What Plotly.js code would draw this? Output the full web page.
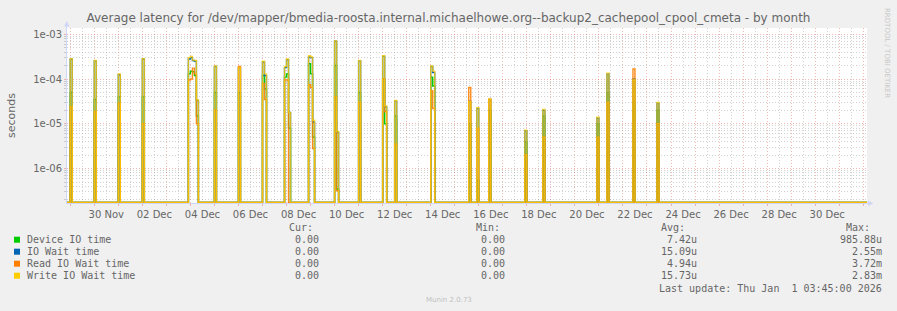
<!DOCTYPE html>
<html>
<head>
<meta charset="utf-8">
<script src="https://cdn.plot.ly/plotly-3.0.1.min.js"></script>
<style>
html,body{margin:0;padding:0;background:#f0f0f0;}
#chart{width:897px;height:311px;}
</style>
</head>
<body>
<div id="chart"></div>
<script>
// ---------------- DATA ----------------
const chartTitle = 'Average latency for /dev/mapper/bmedia-roosta.internal.michaelhowe.org--backup2_cachepool_cpool_cmeta - by month';
const yAxisTitle = 'seconds';
const seriesNames = ['Device IO time', 'IO Wait time', 'Read IO Wait time', 'Write IO Wait time'];

const rangeStart = '2025-11-28 20:45';
const rangeEnd = '2026-01-01 03:45';

// 2-hour sample start times where values are non-zero (all other samples are 0)
const binTimes = [
  '2025-11-29 00:00',
  '2025-11-30 00:00',
  '2025-12-01 00:00',
  '2025-12-02 00:00',
  '2025-12-03 22:00', '2025-12-04 00:00', '2025-12-04 02:00', '2025-12-04 04:00', '2025-12-04 06:00',
  '2025-12-05 00:00',
  '2025-12-06 00:00',
  '2025-12-07 00:00', '2025-12-07 02:00',
  '2025-12-07 22:00', '2025-12-08 00:00', '2025-12-08 02:00',
  '2025-12-08 22:00', '2025-12-09 00:00', '2025-12-09 02:00',
  '2025-12-10 00:00', '2025-12-10 02:00',
  '2025-12-11 00:00',
  '2025-12-12 00:00', '2025-12-12 02:00',
  '2025-12-12 12:00',
  '2025-12-14 00:00', '2025-12-14 02:00',
  '2025-12-15 14:00',
  '2025-12-15 22:00',
  '2025-12-16 10:00',
  '2025-12-17 22:00',
  '2025-12-18 16:00',
  '2025-12-20 22:00',
  '2025-12-21 08:00',
  '2025-12-22 10:00',
  '2025-12-23 10:00'
];

const deviceIO = [
  5e-5, 3.5e-5, 4e-5, 4e-5,
  1.3e-4, 1.5e-4, 1.45e-4, 1.2e-4, 1.5e-5,
  5e-5, 5e-5,
  1.2e-4, 6e-5,
  1.1e-4, 1.3e-4, 8e-6,
  2.2e-4, 1.3e-4, 5e-6,
  2e-4, 3.5e-7,
  5e-5,
  1e-4, 1e-5,
  1.5e-5,
  1.1e-4, 7e-5,
  1e-5, 5.5e-7, 2e-5, 4e-6, 1.5e-5, 1e-5, 5e-5, 3e-5, 2e-5
];
const ioWait = [
  2.8e-4, 2.55e-4, 1.25e-4, 2.8e-4,
  2.8e-4, 3.0e-4, 2.6e-4, 2.5e-4, 3.3e-5,
  1.9e-4, 1.8e-4,
  2.4e-4, 1.2e-4,
  1.8e-4, 2.7e-4, 1.8e-5,
  3.1e-4, 3.0e-4, 1.1e-5,
  7.0e-4, 6.5e-6,
  2.55e-4,
  3.2e-4, 2.4e-5,
  3.2e-5,
  1.9e-4, 1.4e-4,
  3.2e-5, 2.2e-5, 3.5e-5, 7e-6, 2e-5, 1.35e-5, 1.3e-4, 1e-4, 2.9e-5
];
const readWait = [
  2.4e-5, 1.85e-5, 2.9e-5, 1e-5,
  9.5e-5, 1.0e-4, 1.75e-4, 1.3e-4, 1.0e-5,
  2e-5, 1.9e-4,
  8e-5, 3.5e-5,
  9.5e-5, 9.5e-5, 0,
  7.5e-5, 6.5e-5, 2.8e-6,
  4e-5, 3.2e-7,
  3e-5,
  1e-4, 1.85e-5,
  3.5e-6,
  5.5e-5, 2.2e-5,
  6.5e-5, 8e-6, 3.5e-5, 2e-6, 5e-6, 5e-6, 3e-5, 1.67e-4, 1e-5
];
const writeWait = [
  2.85e-4, 2.6e-4, 1.3e-4, 2.85e-4,
  3.0e-4, 3.2e-4, 2.65e-4, 2.6e-4, 3.4e-5,
  1.95e-4, 1.8e-4,
  2.5e-4, 1.3e-4,
  1.9e-4, 2.8e-4, 1.8e-5,
  3.3e-4, 3.1e-4, 1.2e-5,
  7.1e-4, 6.7e-6,
  2.6e-4,
  3.3e-4, 2.5e-5,
  3.3e-5,
  1.95e-4, 1.5e-4,
  3.1e-5, 2.3e-5, 3.6e-5, 7.2e-6, 2.1e-5, 1.4e-5, 1.35e-4, 9.5e-5, 3e-5
];

const xTickDates = ['2025-11-30 12:00','2025-12-02 12:00','2025-12-04 12:00','2025-12-06 12:00','2025-12-08 12:00',
  '2025-12-10 12:00','2025-12-12 12:00','2025-12-14 12:00','2025-12-16 12:00','2025-12-18 12:00','2025-12-20 12:00',
  '2025-12-22 12:00','2025-12-24 12:00','2025-12-26 12:00','2025-12-28 12:00','2025-12-30 12:00'];
const xTickLabels = ['30 Nov','02 Dec','04 Dec','06 Dec','08 Dec','10 Dec','12 Dec','14 Dec','16 Dec','18 Dec',
  '20 Dec','22 Dec','24 Dec','26 Dec','28 Dec','30 Dec'];
const yTickValues = [1e-6, 1e-5, 1e-4, 1e-3];
const yTickLabels = ['1e-06', '1e-05', '1e-04', '1e-03'];

const statHeaders = ['Cur:', 'Min:', 'Avg:', 'Max:'];
const curVals = ['0.00', '0.00', '0.00', '0.00'];
const minVals = ['0.00', '0.00', '0.00', '0.00'];
const avgVals = ['7.42u', '15.09u', '4.94u', '15.73u'];
const maxVals = ['985.88u', '2.55m', '3.72m', '2.83m'];
const lastUpdate = 'Last update: Thu Jan\u00a0\u00a01 03:45:00 2026';
const footer = 'Munin 2.0.73';
const sideText = 'RRDTOOL / TOBI OETIKER';

// ---------------- STYLE ----------------
const seriesColors = ['#00CC00', '#0066B3', '#FF8000', '#FFCC00'];
const seriesOpacity = [1, 1, 0.9, 0.82];
const FONT = '#666666';
const AXIS = '#CFD6F8';
const W = 897, H = 311;
const PL = 67, PR = 867, PT = 28, PB = 203;
const LOG_MIN = -6.77, LOG_MAX = -2.86;
const FLOOR = Math.pow(10, LOG_MIN + 0.012);
const MGRID = 'rgba(222,79,79,0.4)';
const GRID = 'rgba(143,143,143,0.4)';
const DASH = '1px,2px';

function toMs(s) { return Date.parse(s.replace(' ', 'T') + ':00Z'); }
const STEP = 2 * 3600 * 1000;

function buildSeries(vals) {
  const xs = [toMs(rangeStart)], ys = [FLOOR];
  for (let i = 0; i < binTimes.length; i++) {
    const t = toMs(binTimes[i]);
    xs.push(t); ys.push(vals[i] > 0 ? vals[i] : FLOOR);
    const next = i + 1 < binTimes.length ? toMs(binTimes[i + 1]) : null;
    if (next !== t + STEP) { xs.push(t + STEP); ys.push(FLOOR); }
  }
  xs.push(toMs(rangeEnd)); ys.push(FLOOR);
  return { xs, ys };
}

const allSeries = [deviceIO, ioWait, readWait, writeWait];
const traces = allSeries.map((vals, i) => {
  const s = buildSeries(vals);
  return {
    x: s.xs, y: s.ys, type: 'scatter', mode: 'lines', opacity: seriesOpacity[i],
    line: { color: seriesColors[i], width: 1.4, shape: 'hv' },
    name: seriesNames[i], hoverinfo: 'skip', showlegend: false
  };
});
traces.push({
  x: [toMs(rangeStart)], y: [FLOOR], xaxis: 'x2', type: 'scatter', mode: 'markers',
  marker: { opacity: 0 }, hoverinfo: 'skip', showlegend: false
});

const minorY = [];
for (let d = -7; d <= -3; d++) for (let k = 2; k <= 9; k++) minorY.push(k * Math.pow(10, d));

function px(x) { return (x - PL) / (PR - PL); }
function py(y) { return (PB - y) / (PB - PT); }

const annotations = [];
function ann(text, x, y, xanchor, font, extra) {
  annotations.push(Object.assign({
    xref: 'paper', yref: 'paper', x: px(x), y: py(y), text: text, showarrow: false,
    xanchor: xanchor, yanchor: 'middle', font: font, borderpad: 0
  }, extra || {}));
}
const mono = { family: 'DejaVu Sans Mono', size: 10, color: FONT };

ann(yAxisTitle, 11, 115, 'center', { family: 'DejaVu Sans', size: 11, color: FONT }, { textangle: -90 });
ann(sideText, 887, 53, 'center', { family: 'DejaVu Sans', size: 7, color: '#c8c8c8' }, { textangle: 90 });

const rowY = [239.7, 251.7, 263.7, 275.7];
const headerY = 227.5;
const colRightHeader = [314, 500.5, 686, 871];
const colRightVals = [320, 506, 698, 883];
statHeaders.forEach((h, i) => ann(h, colRightHeader[i], headerY, 'right', mono));
const shapes = [];
seriesNames.forEach((n, r) => {
  ann(n, 26, rowY[r], 'left', mono);
  ann(curVals[r], colRightVals[0], rowY[r], 'right', mono);
  ann(minVals[r], colRightVals[1], rowY[r], 'right', mono);
  ann(avgVals[r], colRightVals[2], rowY[r], 'right', mono);
  ann(maxVals[r], colRightVals[3], rowY[r], 'right', mono);
  shapes.push({
    type: 'rect', xref: 'paper', yref: 'paper',
    x0: px(14), x1: px(20), y0: py(rowY[r] + 3), y1: py(rowY[r] - 3),
    fillcolor: seriesColors[r], line: { width: 0 }
  });
});
ann(lastUpdate, 883, 288.3, 'right', mono);
ann(footer, 448.5, 300, 'center', { family: 'DejaVu Sans', size: 7, color: '#c0c0c0' });

// axis arrows
function pathPts(pts) {
  return 'M ' + pts.map(p => px(p[0]) + ',' + py(p[1])).join(' L ') + ' Z';
}
shapes.push({ type: 'path', xref: 'paper', yref: 'paper', path: pathPts([[868, 200.5], [873.5, 203.2], [868, 206]]), fillcolor: AXIS, line: { width: 0 } });
shapes.push({ type: 'path', xref: 'paper', yref: 'paper', path: pathPts([[64, 26.5], [66.8, 21], [69.6, 26.5]]), fillcolor: AXIS, line: { width: 0 } });
shapes.push({ type: 'line', xref: 'paper', yref: 'paper', x0: px(66.5), x1: px(66.5), y0: py(203), y1: py(26), line: { color: AXIS, width: 1 } });
shapes.push({ type: 'line', xref: 'paper', yref: 'paper', x0: px(66), x1: px(869), y0: py(203.5), y1: py(203.5), line: { color: AXIS, width: 1 } });

const xRange = [toMs(rangeStart), toMs(rangeEnd)];

const layout = {
  width: W, height: H,
  margin: { l: PL, r: W - PR, t: PT, b: H - PB, pad: 0 },
  paper_bgcolor: '#f0f0f0', plot_bgcolor: '#ffffff',
  title: {
    text: chartTitle, x: 0.5, xref: 'container', xanchor: 'center',
    y: 1 - 18 / H, yref: 'container', yanchor: 'middle',
    font: { family: 'DejaVu Sans', size: 12, color: FONT }
  },
  showlegend: false,
  xaxis: {
    type: 'date', range: xRange, fixedrange: true,
    tick0: toMs('2025-11-30 00:00'), dtick: 86400000, tickmode: 'linear',
    showticklabels: false, ticks: 'outside', ticklen: 2, tickcolor: MGRID,
    showgrid: true, gridcolor: MGRID, griddash: DASH, gridwidth: 1,
    minor: { dtick: 43200000, tick0: toMs('2025-11-30 00:00'), showgrid: true, gridcolor: GRID, griddash: DASH, ticks: '' },
    showline: false, zeroline: false
  },
  xaxis2: {
    type: 'date', range: xRange, overlaying: 'x', anchor: 'y', side: 'bottom', fixedrange: true,
    tickmode: 'array', tickvals: xTickDates.map(toMs), ticktext: xTickLabels,
    tickfont: { family: 'DejaVu Sans', size: 10, color: FONT },
    showgrid: false, showline: false, zeroline: false, ticks: 'outside', ticklen: 2, tickcolor: 'rgba(0,0,0,0)'
  },
  yaxis: {
    type: 'log', range: [LOG_MIN, LOG_MAX], fixedrange: true,
    tickmode: 'array', tickvals: yTickValues, ticktext: yTickLabels,
    tickfont: { family: 'DejaVu Sans', size: 10, color: FONT },
    ticks: 'outside', ticklen: 2, tickcolor: MGRID,
    showgrid: true, gridcolor: MGRID, griddash: DASH, gridwidth: 1,
    minor: { tickmode: 'array', tickvals: minorY, showgrid: true, gridcolor: GRID, griddash: DASH, ticks: 'outside', ticklen: 2, tickcolor: GRID },
    showline: false, zeroline: false
  },
  annotations: annotations,
  shapes: shapes
};

Plotly.newPlot('chart', traces, layout, { staticPlot: true, displayModeBar: false });
</script>
</body>
</html>
